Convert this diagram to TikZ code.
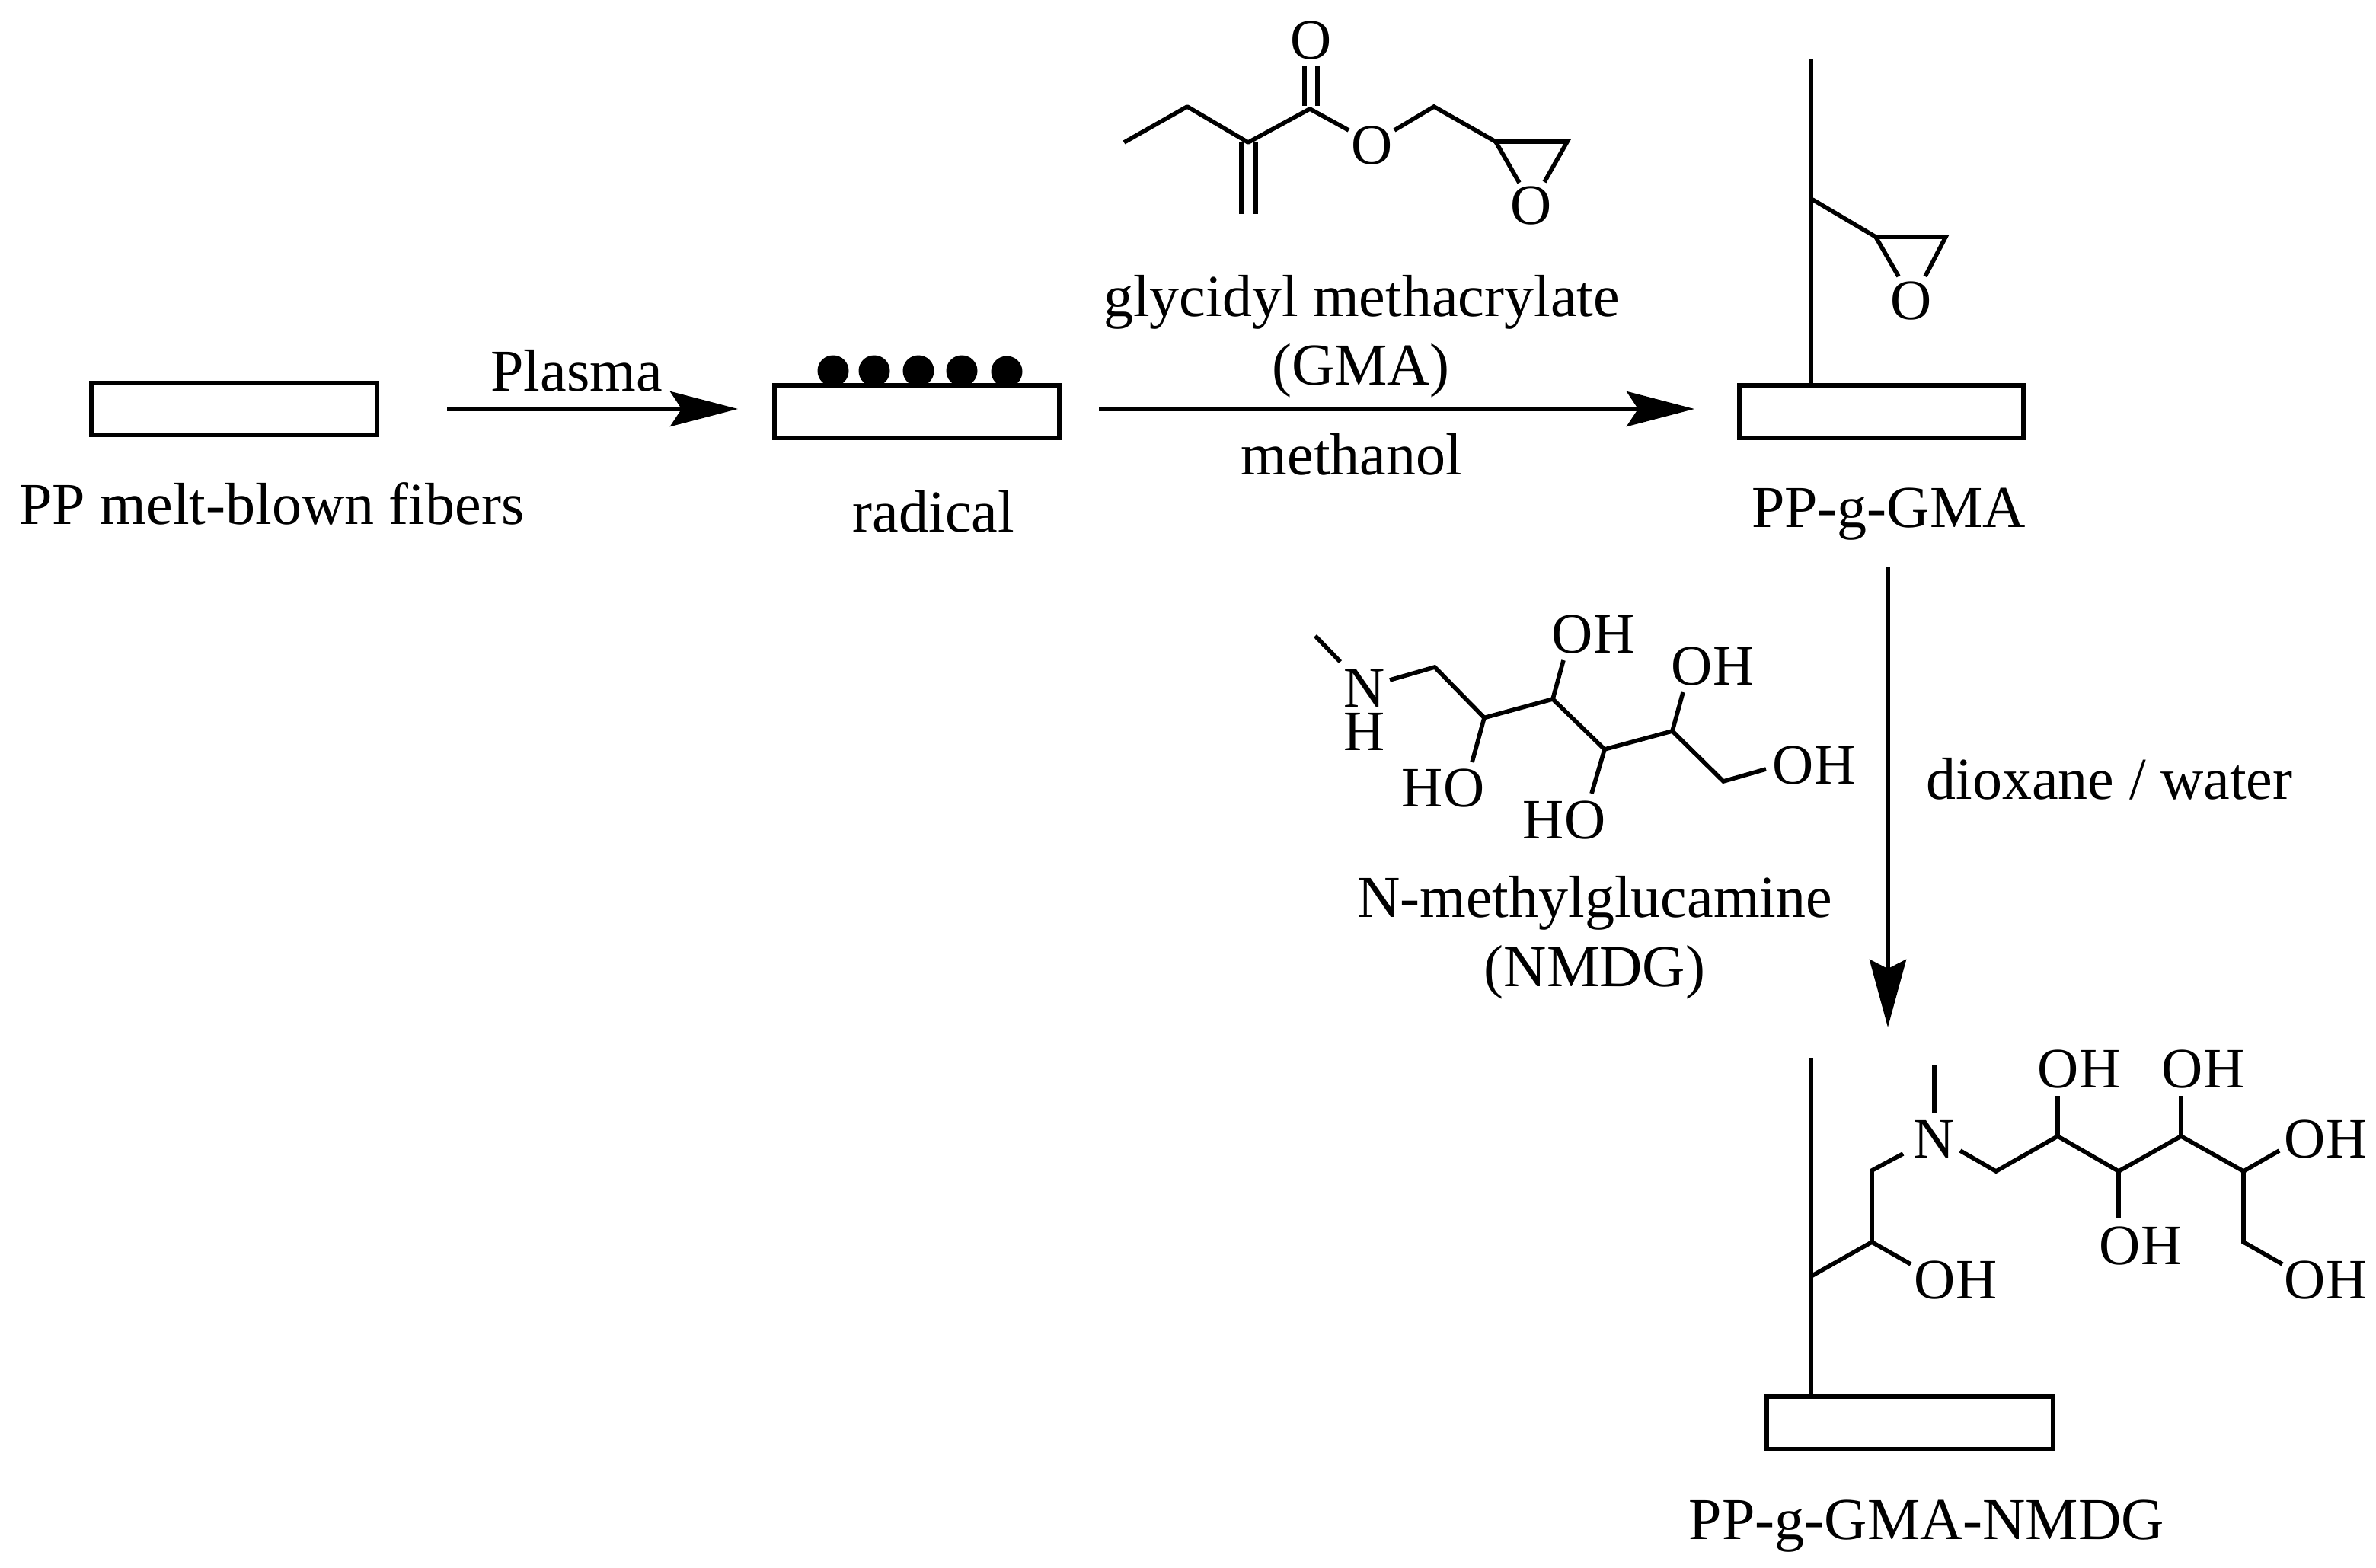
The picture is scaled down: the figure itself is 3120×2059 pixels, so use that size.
\documentclass[tikz,border=0pt]{standalone}
\usepackage{fontspec}
\setmainfont{Liberation Serif}
\usetikzlibrary{arrows.meta}
\tikzset{
  bond/.style={line width=2.8bp,line cap=butt,line join=miter},
  txt/.style={anchor=base,inner sep=0pt,outer sep=0pt,font=\fontsize{39bp}{39bp}\selectfont},
  atom/.style={anchor=base,inner sep=0pt,outer sep=0pt,font=\fontsize{37.5bp}{37.5bp}\selectfont},
  atomstack/.style={anchor=center,inner sep=0pt,outer sep=0pt,align=center,font=\fontsize{37.5bp}{28.5bp}\selectfont},
  fiber/.style={draw=black,fill=white,line width=2.8bp,rectangle,inner sep=0pt,outer sep=0pt},
  radical/.style={circle,fill=black,inner sep=0pt,minimum size=20.5bp},
  hrx/.style={line width=2.8bp,-{Stealth[length=44.5bp,width=23bp,inset=7.5bp]}},
  vrx/.style={line width=2.8bp,-{Stealth[length=44.5bp,width=24bp,inset=6bp]}}
}
\begin{document}
\begin{tikzpicture}[x=0.5bp,y=-0.5bp]
\useasboundingbox (0,0) rectangle (3120,2059);
% radicals beneath the box
\node[radical] (r1) at (1094,487) {};
\node[radical] (r2) at (1148,487) {};
\node[radical] (r3) at (1206,487) {};
\node[radical] (r4) at (1263,487) {};
% fibres
\node[fiber,minimum width=187.7bp,minimum height=34.3bp] (box1) at (307.5,537) {};
\node[fiber,minimum width=187.2bp,minimum height=34.8bp] (box2) at (1204,540.5) {};
\node[fiber,minimum width=186.7bp,minimum height=34.8bp] (box3) at (2470.5,540.5) {};
\node[fiber,minimum width=188.2bp,minimum height=34.3bp] (box4) at (2508,1868) {};
\node[radical] (r5) at (1322,488) {};
% labels
\node[txt] (l1) at (357,688) {PP melt-blown fibers};
\node[txt] (l2) at (1226,698) {radical};
\node[txt] (l3) at (2480,692) {PP-g-GMA};
\node[txt] (l4) at (2530,2021) {PP-g-GMA-NMDG};
\node[txt] (plasma) at (757,513) {Plasma};
\node[txt] (g1) at (1788,415) {glycidyl methacrylate};
\node[txt] (g2) at (1787,505) {(GMA)};
\node[txt] (meoh) at (1775,623) {methanol};
\node[txt] (n1) at (2094,1204) {N-methylglucamine};
\node[txt] (n2) at (2094,1295) {(NMDG)};
\node[txt] (diox) at (2770,1049) {dioxane / water};
% reaction arrows
\coordinate (a1s) at (587,537); \coordinate (a1e) at (969,537);
\coordinate (a2s) at (1443,537); \coordinate (a2e) at (2225,537);
\coordinate (a3s) at (2479,744); \coordinate (a3e) at (2479,1349);
\draw[hrx] (a1s) -- (a1e);
\draw[hrx] (a2s) -- (a2e);
\draw[vrx] (a3s) -- (a3e);
% GMA
\node[atom] (gO1) at (1722,78) {O};
\node[atom] (gO2) at (1802,216) {O};
\node[atom] (gO3) at (2011,295) {O};
\coordinate (gc1) at (1476,187);
\coordinate (gc2) at (1559,140);
\coordinate (gc3) at (1639,187);
\coordinate (gc4) at (1720,143);
\coordinate (gb1) at (1771,171);
\coordinate (gb2) at (1831,171);
\coordinate (gc5) at (1883,140);
\coordinate (gc6) at (1964,186);
\coordinate (gc7) at (2058,186);
\coordinate (gb3) at (1995,240);
\coordinate (gb4) at (2028,239);
\coordinate (gd1a) at (1630,187); \coordinate (gd1b) at (1630,281);
\coordinate (gd2a) at (1649,187); \coordinate (gd2b) at (1649,281);
\coordinate (gd3a) at (1713,87);  \coordinate (gd3b) at (1713,139);
\coordinate (gd4a) at (1730,87);  \coordinate (gd4b) at (1730,139);
\draw[bond,line join=round] (gc1) -- (gc2) -- (gc3) -- (gc4) -- (gb1);
\draw[bond] (gb2) -- (gc5) -- (gc6) -- (gc7) -- (gb4);
\draw[bond] (gc6) -- (gb3);
\draw[bond] (gd1a) -- (gd1b);
\draw[bond] (gd2a) -- (gd2b);
\draw[bond] (gd3a) -- (gd3b);
\draw[bond] (gd4a) -- (gd4b);
% PP-g-GMA
\node[atom] (pO) at (2510,419) {O};
\coordinate (pt) at (2378,78);
\coordinate (pb) at (2378,504);
\coordinate (pj) at (2380,262);
\coordinate (pc1) at (2463,311);
\coordinate (pc2) at (2555,311);
\coordinate (pb1) at (2493,363);
\coordinate (pb2) at (2528,363);
\draw[bond] (pt) -- (pb);
\draw[bond] (pj) -- (pc1) -- (pc2) -- (pb2);
\draw[bond] (pc1) -- (pb1);
% N-methylglucamine
\node[atomstack] (mNH) at (1792,932.5) {N\\H};
\node[atom] (mo1) at (1895,1059) {HO};
\node[atom] (mo2) at (2092,857.5) {OH};
\node[atom] (mo3) at (2054,1101) {HO};
\node[atom] (mo4) at (2249,899) {OH};
\node[atom] (mo5) at (2382,1029) {OH};
\coordinate (mm1) at (1727,835);
\coordinate (mm2) at (1760,869);
\coordinate (mb0) at (1825,893);
\coordinate (mc1) at (1884,876);
\coordinate (mc2) at (1949,942.5);
\coordinate (mc3) at (2039,918);
\coordinate (mc4) at (2107,984);
\coordinate (mc5) at (2196,960);
\coordinate (mc6) at (2263,1026);
\coordinate (mb5) at (2319,1010);
\coordinate (mb1) at (1933,1001);
\coordinate (mb2) at (2053,867);
\coordinate (mb3) at (2090,1042);
\coordinate (mb4) at (2210,909);
\draw[bond] (mm1) -- (mm2);
\draw[bond] (mb0) -- (mc1) -- (mc2) -- (mc3) -- (mc4) -- (mc5) -- (mc6) -- (mb5);
\draw[bond] (mc2) -- (mb1);
\draw[bond] (mc3) -- (mb2);
\draw[bond] (mc4) -- (mb3);
\draw[bond] (mc5) -- (mb4);
% PP-g-GMA-NMDG
\node[atom] (sN) at (2540,1520.5) {N};
\node[atom] (so1) at (2568,1705) {OH};
\node[atom] (so2) at (2730,1428) {OH};
\node[atom] (so3) at (2893,1428) {OH};
\node[atom] (so4) at (2811,1660) {OH};
\node[atom] (so5) at (3054,1520) {OH};
\node[atom] (so6) at (3054,1705) {OH};
\coordinate (st) at (2378,1389);
\coordinate (sb) at (2378,1832);
\coordinate (sj) at (2378,1676);
\coordinate (sc1) at (2458,1631);
\coordinate (sc2) at (2458,1537);
\coordinate (sb0) at (2499,1515);
\coordinate (sbo) at (2509,1660);
\coordinate (sm1) at (2540,1398);
\coordinate (sm2) at (2540,1462);
\coordinate (sb1) at (2574,1511);
\coordinate (sc3) at (2621,1538);
\coordinate (sc4) at (2702,1492);
\coordinate (sc5) at (2782,1538);
\coordinate (sc6) at (2864,1492);
\coordinate (sc7) at (2946,1538);
\coordinate (sc8) at (2946,1631);
\coordinate (sb8) at (2997,1660);
\coordinate (sb4) at (2702,1439);
\coordinate (sb6) at (2864,1439);
\coordinate (sb5) at (2782,1598.5);
\coordinate (sb7) at (2993,1511);
\draw[bond] (st) -- (sb);
\draw[bond] (sj) -- (sc1) -- (sc2) -- (sb0);
\draw[bond] (sc1) -- (sbo);
\draw[bond] (sm1) -- (sm2);
\draw[bond] (sb1) -- (sc3) -- (sc4) -- (sc5) -- (sc6) -- (sc7) -- (sc8) -- (sb8);
\draw[bond] (sc4) -- (sb4);
\draw[bond] (sc6) -- (sb6);
\draw[bond] (sc5) -- (sb5);
\draw[bond] (sc7) -- (sb7);
\end{tikzpicture}
\end{document}
